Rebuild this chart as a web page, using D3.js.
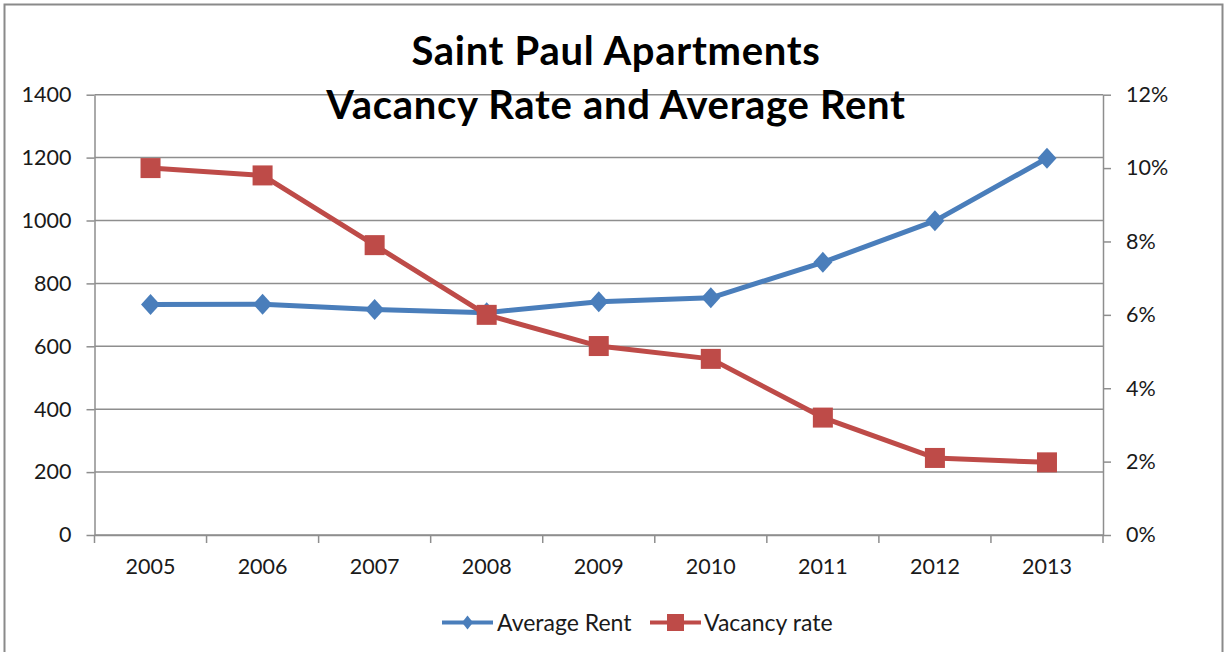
<!DOCTYPE html>
<html>
<head>
<meta charset="utf-8">
<script src="https://cdn.jsdelivr.net/npm/d3@7"></script>
<style>
  html, body { margin: 0; padding: 0; background: #fff; }
  svg { display: block; font-family: Lato, "Open Sans", sans-serif; }
</style>
</head>
<body>
<div id="chart"></div>
<script>
const years = ["2005", "2006", "2007", "2008", "2009", "2010", "2011", "2012", "2013"];
const averageRent = [733, 734, 717, 707, 742, 754, 867, 999, 1198];
const vacancyRate = [0.100, 0.098, 0.079, 0.060, 0.0515, 0.048, 0.032, 0.021, 0.0198];
const rentTicks = [0, 200, 400, 600, 800, 1000, 1200, 1400];
const rateTicks = [0, 0.02, 0.04, 0.06, 0.08, 0.10, 0.12];
const titleLines = ["Saint Paul Apartments", "Vacancy Rate and Average Rent"];
const seriesNames = ["Average Rent", "Vacancy rate"];

(function () {
  const width = 1225, height = 652;
  const plot = { left: 94.5, right: 1103, top: 94.7, bottom: 535 };
  const blue = "#4a7ebb", red = "#be4b48", axisGrey = "#8e8e8e";

  const svg = d3.select("#chart")
    .append("svg")
    .attr("width", width)
    .attr("height", height);

  // chart frame
  svg.append("rect")
    .attr("x", 4.5).attr("y", 4.5)
    .attr("width", 1218).attr("height", 680)
    .attr("fill", "#fff")
    .attr("stroke", "#8a8a8a")
    .attr("stroke-width", 2);

  const x = d3.scaleBand()
    .domain(years)
    .range([plot.left, plot.right])
    .padding(0);

  const yRent = d3.scaleLinear()
    .domain([0, 1400])
    .range([plot.bottom, plot.top]);

  const yRate = d3.scaleLinear()
    .domain([0, 0.12])
    .range([plot.bottom, plot.top]);

  // gridlines
  svg.append("g")
    .selectAll("line")
    .data(rentTicks)
    .join("line")
    .attr("x1", plot.left).attr("x2", plot.right)
    .attr("y1", d => yRent(d)).attr("y2", d => yRent(d))
    .attr("stroke", axisGrey)
    .attr("stroke-width", 1.5);

  // left axis
  const leftAxis = svg.append("g")
    .attr("transform", `translate(${plot.left},0)`)
    .call(d3.axisLeft(yRent).tickValues(rentTicks).tickFormat(d3.format("d"))
      .tickSize(8).tickSizeOuter(0).tickPadding(15));

  // right axis
  const rightAxis = svg.append("g")
    .attr("transform", `translate(${plot.right},0)`)
    .call(d3.axisRight(yRate).tickValues(rateTicks).tickFormat(d3.format(".0%"))
      .tickSize(8).tickSizeOuter(0).tickPadding(15));

  // bottom axis: labels at band centres, ticks at band edges
  const bottomAxis = svg.append("g")
    .attr("transform", `translate(0,${plot.bottom})`)
    .call(d3.axisBottom(x).tickSize(0).tickSizeOuter(0).tickPadding(24));

  bottomAxis.selectAll(".edge")
    .data(years.map(d => x(d)).concat([x.range()[1]]))
    .join("line")
    .attr("class", "edge")
    .attr("x1", d => d).attr("x2", d => d)
    .attr("y1", 0).attr("y2", 8)
    .attr("stroke", axisGrey)
    .attr("stroke-width", 1.5);

  [leftAxis, rightAxis, bottomAxis].forEach(a => {
    a.selectAll(".domain, .tick line")
      .attr("stroke", axisGrey)
      .attr("stroke-width", 1.5);
    a.selectAll("text")
      .attr("fill", "#1a1a1a")
      .style("font-family", "Lato, 'Open Sans', sans-serif")
      .style("font-size", "21.5px");
  });

  // series lines
  const rentLine = d3.line()
    .x((d, i) => x(years[i]) + x.bandwidth() / 2)
    .y(d => yRent(d));

  const rateLine = d3.line()
    .x((d, i) => x(years[i]) + x.bandwidth() / 2)
    .y(d => yRate(d));

  svg.append("path")
    .datum(averageRent)
    .attr("d", rentLine)
    .attr("fill", "none")
    .attr("stroke", blue)
    .attr("stroke-width", 5)
    .attr("stroke-linejoin", "round");

  svg.append("g")
    .selectAll("path")
    .data(averageRent)
    .join("path")
    .attr("d", "M0,-10.5L9.5,0L0,10.5L-9.5,0Z")
    .attr("transform", (d, i) => `translate(${x(years[i]) + x.bandwidth() / 2},${yRent(d)})`)
    .attr("fill", blue);

  svg.append("path")
    .datum(vacancyRate)
    .attr("d", rateLine)
    .attr("fill", "none")
    .attr("stroke", red)
    .attr("stroke-width", 5)
    .attr("stroke-linejoin", "round");

  svg.append("g")
    .selectAll("rect")
    .data(vacancyRate)
    .join("rect")
    .attr("x", (d, i) => x(years[i]) + x.bandwidth() / 2 - 10)
    .attr("y", d => yRate(d) - 10)
    .attr("width", 20)
    .attr("height", 20)
    .attr("fill", red);

  // title
  svg.append("text")
    .attr("text-anchor", "middle")
    .style("font-family", "Lato, 'Open Sans', sans-serif")
    .style("font-weight", "bold")
    .style("font-size", "40px")
    .style("letter-spacing", "0.7px")
    .attr("fill", "#000")
    .selectAll("tspan")
    .data(titleLines)
    .join("tspan")
    .attr("x", 616)
    .attr("y", (d, i) => i === 0 ? 65 : 118.5)
    .text(d => d);

  // legend
  const legendY = 622.5;
  const legend = svg.append("g");
  const item1 = legend.append("g").attr("transform", `translate(442,${legendY})`);
  item1.append("line").attr("x1", 0).attr("x2", 51).attr("stroke", blue).attr("stroke-width", 4);
  item1.append("path").attr("d", "M0,-7L5.5,0L0,7L-5.5,0Z").attr("transform", "translate(25.5,0)").attr("fill", blue);
  item1.append("text").attr("x", 55).attr("dy", "0.35em").text(seriesNames[0]);

  const item2 = legend.append("g").attr("transform", `translate(650,${legendY})`);
  item2.append("line").attr("x1", 0).attr("x2", 51).attr("stroke", red).attr("stroke-width", 4);
  item2.append("rect").attr("x", 17).attr("y", -8.5).attr("width", 17).attr("height", 17).attr("fill", red);
  item2.append("text").attr("x", 54).attr("dy", "0.35em").text(seriesNames[1]);

  legend.selectAll("text")
    .attr("fill", "#1a1a1a")
    .style("font-size", "23px");
})();
</script>
</body>
</html>
